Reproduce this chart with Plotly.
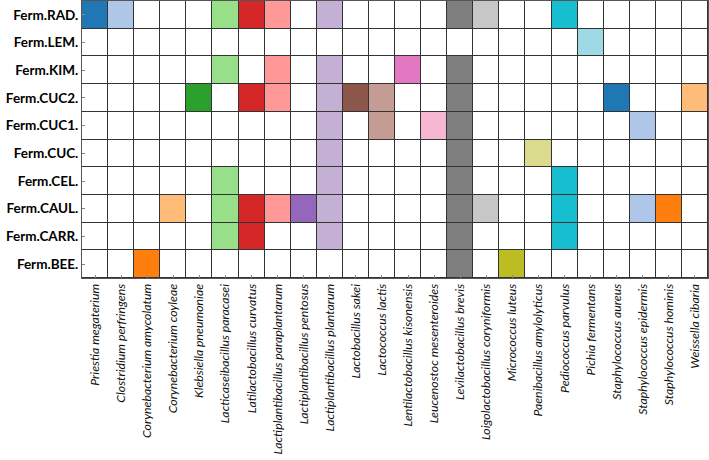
import plotly.graph_objects as go

species = [
    "Priestia megaterium", "Clostridium perfringens", "Corynebacterium amycolatum",
    "Corynebacterium coyleae", "Klebsiella pneumoniae", "Lacticaseibacillus paracasei",
    "Latilactobacillus curvatus", "Lactiplantibacillus paraplantarum",
    "Lactiplantibacillus pentosus", "Lactiplantibacillus plantarum", "Lactobacillus sakei",
    "Lactococcus lactis", "Lentilactobacillus kisonensis", "Leucenostoc mesenteroides",
    "Levilactobacillus brevis", "Loigolactobacillus coryniformis", "Micrococcus luteus",
    "Paenibacillus amylolyticus", "Pediococcus parvulus", "Pichia fermentans",
    "Staphylococcus aureus", "Staphylococcus epidermis", "Staphylococcus hominis",
    "Weissella cibaria",
]

ferments = ["Ferm.RAD.", "Ferm.LEM.", "Ferm.KIM.", "Ferm.CUC2.", "Ferm.CUC1.",
            "Ferm.CUC.", "Ferm.CEL.", "Ferm.CAUL.", "Ferm.CARR.", "Ferm.BEE."]

presence = {
    "Ferm.RAD.": ["Priestia megaterium", "Clostridium perfringens", "Lacticaseibacillus paracasei",
                  "Latilactobacillus curvatus", "Lactiplantibacillus paraplantarum",
                  "Lactiplantibacillus plantarum", "Levilactobacillus brevis",
                  "Loigolactobacillus coryniformis", "Pediococcus parvulus"],
    "Ferm.LEM.": ["Pichia fermentans"],
    "Ferm.KIM.": ["Lacticaseibacillus paracasei", "Lactiplantibacillus paraplantarum",
                  "Lactiplantibacillus plantarum", "Lentilactobacillus kisonensis",
                  "Levilactobacillus brevis"],
    "Ferm.CUC2.": ["Klebsiella pneumoniae", "Latilactobacillus curvatus",
                   "Lactiplantibacillus paraplantarum", "Lactiplantibacillus plantarum",
                   "Lactobacillus sakei", "Lactococcus lactis", "Levilactobacillus brevis",
                   "Staphylococcus aureus", "Weissella cibaria"],
    "Ferm.CUC1.": ["Lactiplantibacillus plantarum", "Lactococcus lactis",
                   "Leucenostoc mesenteroides", "Levilactobacillus brevis",
                   "Staphylococcus epidermis"],
    "Ferm.CUC.": ["Lactiplantibacillus plantarum", "Levilactobacillus brevis",
                  "Paenibacillus amylolyticus"],
    "Ferm.CEL.": ["Lacticaseibacillus paracasei", "Lactiplantibacillus plantarum",
                  "Levilactobacillus brevis", "Pediococcus parvulus"],
    "Ferm.CAUL.": ["Corynebacterium coyleae", "Lacticaseibacillus paracasei",
                   "Latilactobacillus curvatus", "Lactiplantibacillus paraplantarum",
                   "Lactiplantibacillus pentosus", "Lactiplantibacillus plantarum",
                   "Levilactobacillus brevis", "Loigolactobacillus coryniformis",
                   "Pediococcus parvulus", "Staphylococcus epidermis",
                   "Staphylococcus hominis"],
    "Ferm.CARR.": ["Lacticaseibacillus paracasei", "Latilactobacillus curvatus",
                   "Lactiplantibacillus plantarum", "Levilactobacillus brevis",
                   "Pediococcus parvulus"],
    "Ferm.BEE.": ["Corynebacterium amycolatum", "Levilactobacillus brevis",
                  "Micrococcus luteus"],
}

species_colors = [
    "#1f77b4", "#aec7e8", "#ff7f0e", "#ffbb78", "#2ca02c", "#98df8a",
    "#d62728", "#ff9896", "#9467bd", "#c5b0d5", "#8c564b", "#c49c94",
    "#e377c2", "#f7b6d2", "#7f7f7f", "#c7c7c7", "#bcbd22", "#dbdb8d",
    "#17becf", "#9edae5", "#1f77b4", "#aec7e8", "#ff7f0e", "#ffbb78",
]

# z: -1 absent (white), else species index
z = []
for f in ferments:
    z.append([i if s in presence[f] else -1 for i, s in enumerate(species)])

colors = ["#ffffff"] + species_colors
n = len(colors)
colorscale = []
for i, c in enumerate(colors):
    colorscale.append([i / n, c])
    colorscale.append([(i + 1) / n, c])

fig = go.Figure(go.Heatmap(
    z=z, x=species, y=ferments,
    colorscale=colorscale, zmin=-1.5, zmax=n - 1.5,
    showscale=False, xgap=1, ygap=1, hoverinfo="skip",
))

fig.update_layout(
    width=709, height=460,
    margin=dict(l=82, r=1, t=1, b=182),
    paper_bgcolor="white", plot_bgcolor="#333333",
    font=dict(family="Lato", color="black"),
)
fig.update_xaxes(
    automargin=False,
    tickangle=-90, tickfont=dict(family="Lato", size=12.3, style="italic", color="#111"),
    showline=True, linecolor="#555", linewidth=1, mirror=True,
    ticks="inside", ticklen=3, tickcolor="#888", showgrid=False,
)
fig.update_yaxes(
    automargin=False,
    autorange="reversed",
    tickfont=dict(family="Lato", size=13.5, weight="bold", color="black"),
    showline=True, linecolor="#555", linewidth=1, mirror=True,
    ticks="inside", ticklen=3, tickcolor="#888", showgrid=False,
)

fig.write_html("out.html")
